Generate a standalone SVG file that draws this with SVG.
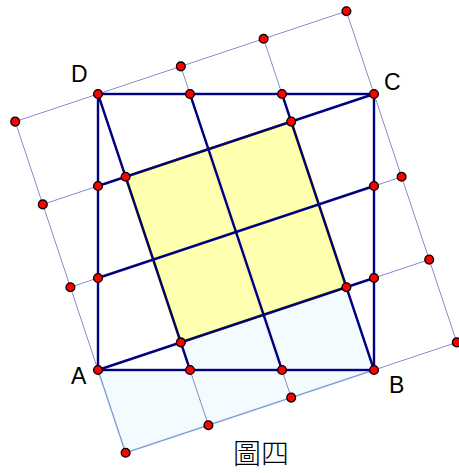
<svg xmlns="http://www.w3.org/2000/svg" width="459" height="473" viewBox="0 0 459 473">
<defs>
<style>
.thin{stroke:#8a8ad0;stroke-width:1;fill:none}
.navy{stroke:#000080;stroke-width:2.4;fill:none;stroke-linecap:round}
.dot{fill:#ff0000;stroke:#000;stroke-width:1.3}
.lbl{font-family:"Liberation Sans",Arial,sans-serif;font-size:23px;fill:#000}
.cap{font-family:"Noto Sans CJK TC","Noto Sans CJK SC",sans-serif;font-size:28px;font-weight:300;fill:#000}
</style>
<circle id="pt" r="4.4" class="dot"/>
</defs>
<rect width="459" height="473" fill="#fff"/>
<g id="fills">
<polygon id="blue-region" points="98,370 125.6,452.8 374,370 346.4,287.2 180.8,342.4 190,370" fill="#f3fbff"/>
<polyline points="98,370 125.6,452.8 374,370" fill="none" stroke="#b4e6f6" stroke-width="2"/>
<polygon id="yellow-square" points="125.6,176.8 291.2,121.6 346.4,287.2 180.8,342.4" fill="#ffffb0" stroke="#f2f200" stroke-width="3"/>
</g>
<g id="connectors">
<g id="grid">
<polygon class="thin" points="125.6,452.8 456.8,342.4 346.4,11.2 15.2,121.6"/>
<line class="thin" x1="98" y1="370" x2="429.2" y2="259.6"/>
<line class="thin" x1="70.4" y1="287.2" x2="401.6" y2="176.8"/>
<line class="thin" x1="42.8" y1="204.4" x2="374" y2="94"/>
<line class="thin" x1="208.4" y1="425.2" x2="98" y2="94"/>
<line class="thin" x1="291.2" y1="397.6" x2="180.8" y2="66.4"/>
<line class="thin" x1="374" y1="370" x2="263.6" y2="38.8"/>
</g>
<g id="square-lines">
<rect class="navy" x="98" y="94" width="276" height="276"/>
<line class="navy" x1="98" y1="370" x2="374" y2="278"/>
<line class="navy" x1="98" y1="278" x2="374" y2="186"/>
<line class="navy" x1="98" y1="186" x2="374" y2="94"/>
<line class="navy" x1="98" y1="94" x2="190" y2="370"/>
<line class="navy" x1="190" y1="94" x2="282" y2="370"/>
<line class="navy" x1="282" y1="94" x2="374" y2="370"/>
</g>
</g>
<g id="points">
<use href="#pt" x="125.6" y="452.8"/>
<use href="#pt" x="208.4" y="425.2"/>
<use href="#pt" x="291.2" y="397.6"/>
<use href="#pt" x="456.8" y="342.4"/>
<use href="#pt" x="429.2" y="259.6"/>
<use href="#pt" x="401.6" y="176.8"/>
<use href="#pt" x="346.4" y="11.2"/>
<use href="#pt" x="263.6" y="38.8"/>
<use href="#pt" x="180.8" y="66.4"/>
<use href="#pt" x="15.2" y="121.6"/>
<use href="#pt" x="42.8" y="204.4"/>
<use href="#pt" x="70.4" y="287.2"/>
<use href="#pt" x="190" y="94"/>
<use href="#pt" x="282" y="94"/>
<use href="#pt" x="98" y="186"/>
<use href="#pt" x="98" y="278"/>
<use href="#pt" x="374" y="186"/>
<use href="#pt" x="374" y="278"/>
<use href="#pt" x="190" y="370"/>
<use href="#pt" x="282" y="370"/>
<use href="#pt" x="125.6" y="176.8"/>
<use href="#pt" x="291.2" y="121.6"/>
<use href="#pt" x="346.4" y="287.2"/>
<use href="#pt" x="180.8" y="342.4"/>
</g>
<g id="node-A"><use href="#pt" x="98" y="370"/><text class="lbl" x="71" y="384">A</text></g>
<g id="node-B"><use href="#pt" x="374" y="370"/><text class="lbl" x="389" y="393">B</text></g>
<g id="node-C"><use href="#pt" x="374" y="94"/><text class="lbl" x="384" y="90">C</text></g>
<g id="node-D"><use href="#pt" x="98" y="94"/><text class="lbl" x="71" y="82">D</text></g>
<text id="caption" class="cap" x="261" y="464" text-anchor="middle">圖四</text>
</svg>
